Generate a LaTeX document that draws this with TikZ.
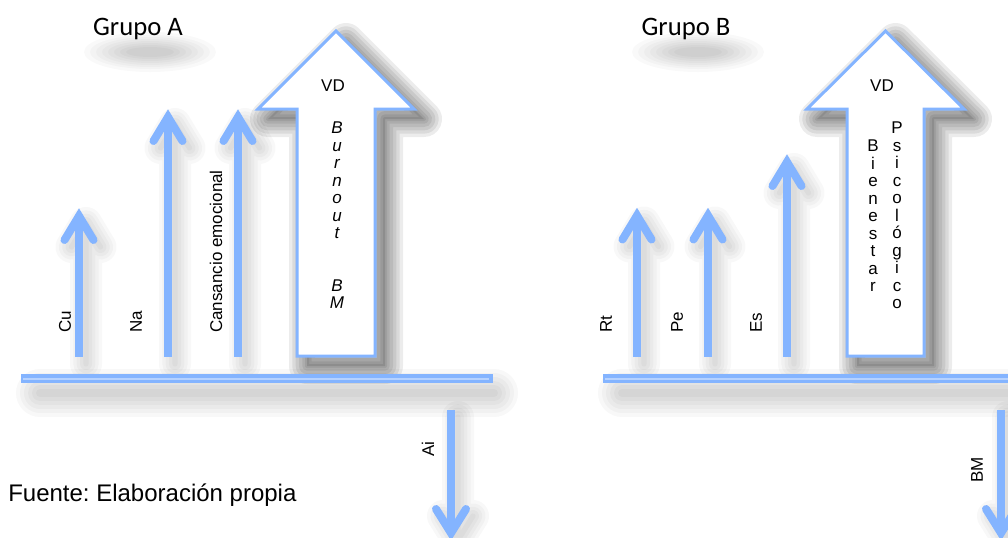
\documentclass[tikz,border=0pt]{standalone}
\usepackage{fontspec}
\setmainfont{Liberation Sans}
\newfontfamily\carlito{Carlito}
\usetikzlibrary{calc}
\frenchspacing
\definecolor{ab}{RGB}{132,180,255}
\definecolor{abl}{RGB}{182,210,255}
\tikzset{
  shaft/.style={draw=ab, line width=6pt},
  barb/.style={draw=ab, line width=6pt, line cap=round, line join=miter},
  bigarrow/.style={draw=ab, fill=white, line width=2.25pt, line join=miter},
  barstroke/.style={draw=ab, line width=6.75pt},
  barline/.style={draw=abl, line width=1.5pt},
  lbl/.style={font=\fontsize{12.75}{15}\selectfont, inner sep=0pt, rotate=90, anchor=west},
  vd/.style={font=\fontsize{12.75}{15}\selectfont, inner sep=0pt},
  grp/.style={font=\carlito\fontsize{20}{24}\selectfont, inner sep=0pt, anchor=base},
  col/.style={font=\fontsize{12.75}{13.125}\selectfont, align=center, inner sep=0pt, anchor=north},
  colit/.style={font=\fontsize{12.75}{13.125}\selectfont\itshape, align=center, inner sep=0pt, anchor=north},
  shl/.style={draw=black, line cap=round, line join=round},
}
\newcommand\softline[3][24pt,19pt,14pt,9pt,4pt]{\foreach \w in {#1}{\draw[shl, line width=\w, draw opacity=#2] #3;}}
\newcommand\softshape[3]{\fill[black, opacity=#1] #3;
  \foreach \w in {27pt,22pt,17pt,12pt,7pt,3pt}{\draw[shl, line width=\w, draw opacity=#2] #3;}}
\newcommand\thinup[4]{%
  \begin{scope}[shift={(7,7)}]
    \softline{0.028}{(#2,#3) -- (#2,#4) (#2-14.5,#4+24) -- (#2,#4) -- (#2+14.5,#4+24)}
  \end{scope}
  \coordinate (#1b) at (#2,#3);
  \coordinate (#1t) at (#2,#4);
  \draw[shaft] (#1b) -- ($(#1t)+(0,6)$);
  \draw[barb] ($(#1t)+(-14.5,24)$) -- (#1t) -- ($(#1t)+(14.5,24)$);
}
\newcommand\thindown[4]{%
  \begin{scope}[shift={(7,7)}]
    \softline{0.028}{(#2,#3) -- (#2,#4) (#2-15,#4-24) -- (#2,#4) -- (#2+15,#4-24)}
  \end{scope}
  \coordinate (#1b) at (#2,#3);
  \coordinate (#1t) at (#2,#4);
  \draw[shaft] (#1b) -- ($(#1t)+(0,-6)$);
  \draw[barb] ($(#1t)+(-15,-24)$) -- (#1t) -- ($(#1t)+(15,-24)$);
}
\begin{document}
\begin{tikzpicture}[x=0.75pt,y=-0.75pt]
\useasboundingbox (0,0) rectangle (1008,537);
\clip (0,0) rectangle (1008,537);
\fill[white] (0,0) rectangle (1008,537);

% ---------- title shadows ----------
\foreach \cx in {150,698}{
  \foreach \rx/\ry in {66/20,60/17,54/15,48/13,42/11,36/9,30/7,24/5}{
    \fill[black, opacity=0.025] (\cx,52) ellipse [x radius=\rx, y radius=\ry];
  }
}
\node[grp] (ga) at (138,35) {Grupo A};
\node[grp] (gb) at (686,35) {Grupo B};

% ---------- bar shadows ----------
\begin{scope}[shift={(6,14)}]
  \softline[36pt,30pt,24pt,18pt,12pt,6pt]{0.028}{(34,379) -- (488,379)}
  \softline[36pt,30pt,24pt,18pt,12pt,6pt]{0.028}{(616,379) -- (1020,379)}
\end{scope}

% ---------- big arrow shadows ----------
\begin{scope}[shift={(10,10)}]
  \softshape{0.1}{0.075}{(297,356) -- (297,109) -- (258,109) -- (336,31) -- (414,109) -- (375,109) -- (375,356) -- cycle}
  \softshape{0.1}{0.075}{(847,356) -- (847,109) -- (807,109) -- (885.5,31) -- (964,109) -- (924,109) -- (924,356) -- cycle}
\end{scope}

% ---------- Group A ----------
\thinup{cu}{79}{357}{216}
\thinup{na}{168}{357}{117}
\thinup{ce}{238}{357}{117}
\node[lbl] (cul) at (65,333) {Cu};
\node[lbl] (nal) at (136,333) {Na};
\node[lbl] (cel) at (216,333) {Cansancio emocional};

\draw[bigarrow] (297,356) -- (297,109) -- (258,109) -- (336,31) -- (414,109) -- (375,109) -- (375,356) -- cycle;
\node[vd] (vda) at (333,86) {VD};
\node[colit] (burn) at (337,122) {B\\u\\r\\n\\o\\u\\t\\[26.25pt]B\\M};

\coordinate (baL) at (21,378.5);
\coordinate (baR) at (493,378.5);
\draw[barstroke] (baL) -- (baR);
\draw[barline] ($(baL)+(2,0)$) -- ($(baR)+(-4,0)$);

\thindown{ai}{451}{410}{533}
\node[lbl] (ail) at (428,457) {Ai};

% ---------- Group B ----------
\thinup{rt}{637}{357}{215.5}
\thinup{pe}{708}{357}{215.5}
\thinup{es}{787}{357}{162}
\node[lbl] (rtl) at (606,333) {Rt};
\node[lbl] (pel) at (677,333) {Pe};
\node[lbl] (esl) at (756,333) {Es};

\draw[bigarrow] (847,356) -- (847,109) -- (807,109) -- (885.5,31) -- (964,109) -- (924,109) -- (924,356) -- cycle;
\node[vd] (vdb) at (882,86) {VD};
\node[col] (bien) at (873,140) {B\\i\\e\\n\\e\\s\\t\\a\\r};
\node[col] (psic) at (897,122) {P\\s\\i\\c\\o\\l\\ó\\g\\i\\c\\o};

\coordinate (bbL) at (603,378.5);
\coordinate (bbR) at (1015,378.5);
\draw[barstroke] (bbL) -- (bbR);
\draw[barline] ($(bbL)+(2,0)$) -- (bbR);

\thindown{bm}{1001}{410}{533}
\node[lbl] (bml) at (977,483) {BM};

% ---------- source ----------
\node[font=\fontsize{18}{22}\selectfont, anchor=base west, inner sep=0pt] (fuente) at (8,501) {Fuente: Elaboración propia};
\end{tikzpicture}
\end{document}
